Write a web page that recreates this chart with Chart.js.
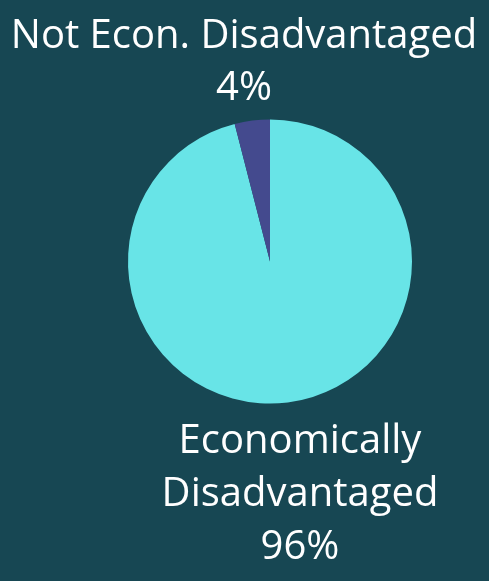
<!DOCTYPE html>
<html>
<head>
<meta charset="utf-8">
<script src="https://cdn.jsdelivr.net/npm/chart.js@4"></script>
<style>
  html, body { margin: 0; padding: 0; background: #174753; }
  #wrap { width: 489px; height: 581px; }
</style>
</head>
<body>
<div id="wrap"><canvas id="myChart"></canvas></div>
<script>
const categories = ['Economically Disadvantaged', 'Not Econ. Disadvantaged'];
const shares = [96, 4];
const sliceColors = ['#68E4E7', '#444A8E'];

// label text lines, drawn by the plugin below
const labelLines = [
    ['Economically', 'Disadvantaged', shares[0] + '%'],
    ['Not Econ. Disadvantaged', shares[1] + '%']
];

const pieLabels = {
    id: 'pieLabels',
    afterDraw(chart) {
        const ctx = chart.ctx;
        ctx.save();
        ctx.fillStyle = '#ffffff';
        ctx.font = '40px "Open Sans"';
        ctx.textAlign = 'center';
        ctx.textBaseline = 'alphabetic';
        // top label (small slice)
        labelLines[1].forEach(function(t, i) {
            ctx.fillText(t, 244, 48 + i * 52);
        });
        // bottom label (big slice)
        labelLines[0].forEach(function(t, i) {
            ctx.fillText(t, 300, 453 + i * 53);
        });
        ctx.restore();
    }
};

let ctx = document.getElementById('myChart');
let myChart = new Chart(ctx, {
    type: 'pie',
    data: {
        labels: categories,
        datasets: [{
            data: shares,
            backgroundColor: sliceColors,
            borderWidth: 0
        }]
    },
    options: {
        responsive: true,
        maintainAspectRatio: false,
        animation: false,
        layout: {
            padding: { left: 128, right: 77, top: 119, bottom: 177 }
        },
        plugins: {
            legend: { display: false },
            tooltip: { enabled: false }
        }
    },
    plugins: [pieLabels]
});
</script>
</body>
</html>
